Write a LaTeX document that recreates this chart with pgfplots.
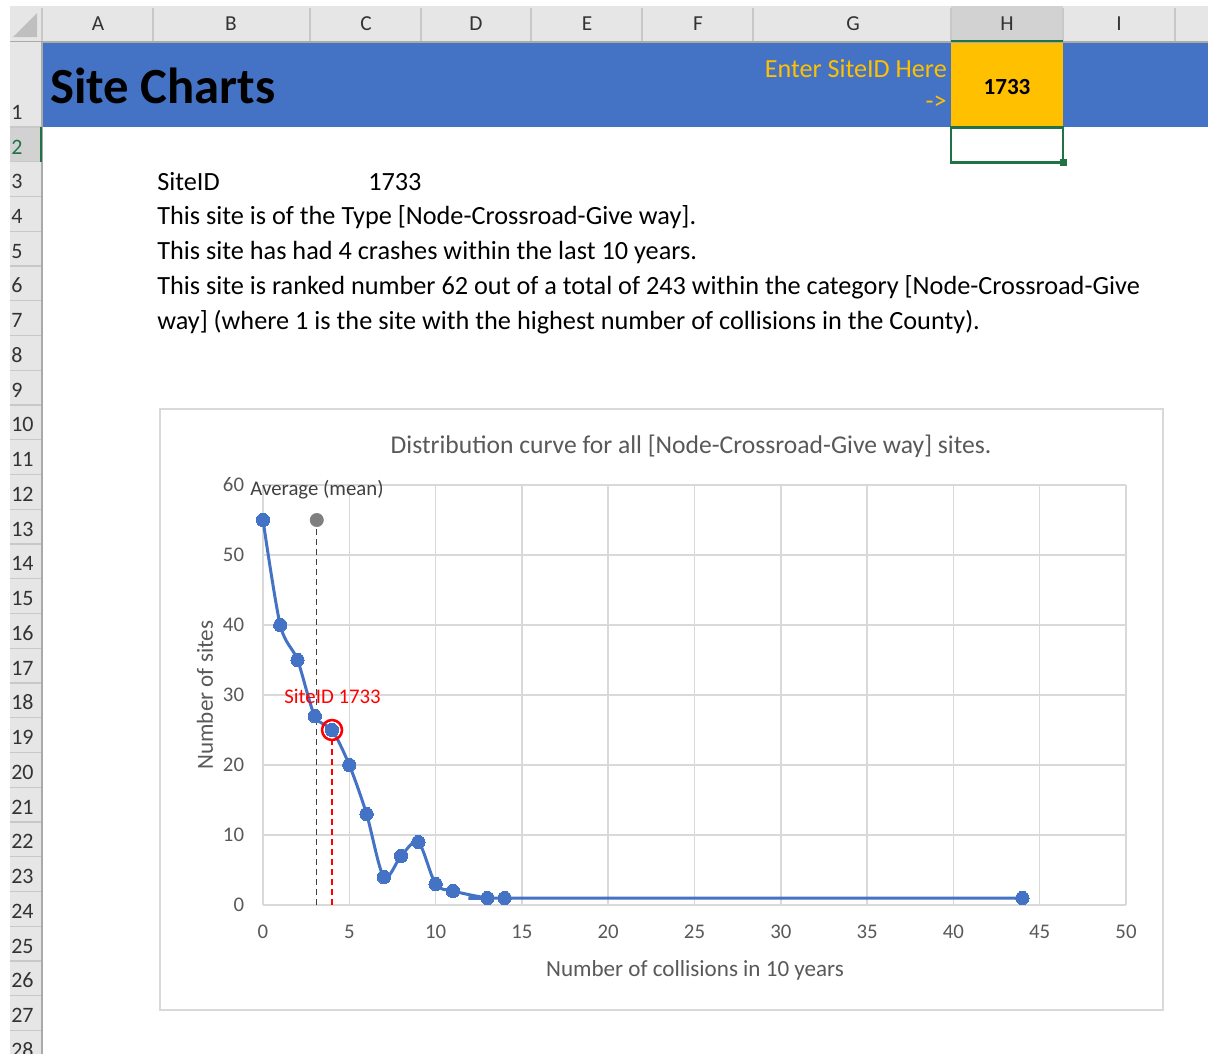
\documentclass[border=0pt]{standalone}
\usepackage{pgfplots}
\pgfplotsset{compat=1.18}
\usepackage{fontspec}
\setmainfont{Carlito}
\definecolor{xlblue}{HTML}{4472C4}
\definecolor{xlgold}{HTML}{FFC000}
\definecolor{xlgreen}{HTML}{217346}
\definecolor{hdrgray}{HTML}{E6E6E6}
\definecolor{hdrsel}{HTML}{D2D2D2}
\definecolor{hdrline}{HTML}{C8C8C8}
\definecolor{hdrtext}{HTML}{333333}
\definecolor{gridc}{HTML}{D9D9D9}
\definecolor{txtgray}{HTML}{595959}
\definecolor{meangray}{HTML}{7F7F7F}
\definecolor{dkgray}{HTML}{404040}
\begin{document}
\begin{tikzpicture}
\begin{scope}[x=0.75pt,y=-0.75pt]
\useasboundingbox (0,0) rectangle (1208,1054);
\fill[white] (0,0) rectangle (1208,1054);
% column headers
\fill[hdrgray] (10,6) rectangle (1208,42);
\fill[hdrsel] (951,6) rectangle (1063,42);
\foreach \x in {42,153,310,421,531,642,753,951,1063,1175} \draw[hdrline, line width=0.8pt] (\x,8) -- (\x,41);
\draw[hdrline!85!black, line width=0.8pt] (10,42) -- (1208,42);
\fill[black!25] (37,13) -- (37,37) -- (13,37) -- cycle;
\foreach \c/\x in {A/98,B/231,C/366,D/476,E/587,F/698,G/853,H/1007,I/1119}
  \node[anchor=base, inner sep=0pt, text=hdrtext, font=\fontsize{16}{18}\selectfont] at (\x,30.5) {\c};
% row headers
\fill[hdrgray] (10,42) rectangle (42,1054);
\fill[hdrsel] (10,127) rectangle (42,161.75);
\foreach \k in {0,...,26} \draw[hdrline, line width=0.8pt] (10,{127+34.75*\k}) -- (41,{127+34.75*\k});
\draw[hdrline!85!black, line width=0.8pt] (42,42) -- (42,1054);
\node[anchor=base west, inner sep=0pt, text=hdrtext, font=\fontsize{16.5}{18}\selectfont] at (11,119) {1};
\node[anchor=base west, inner sep=0pt, text=xlgreen, font=\fontsize{16.5}{18}\selectfont] at (11,154.5) {2};
\foreach \k in {3,...,28}
  \node[anchor=base west, inner sep=0pt, text=hdrtext, font=\fontsize{16.5}{18}\selectfont] at (11,{127+34.75*(\k-2)+17.4+9.5}) {\k};
\draw[xlgreen, line width=1.6pt] (41,127) -- (41,161.75);
% title band
\fill[xlblue] (42.5,42.5) rectangle (1208,127);
\fill[xlgold] (951,42.5) rectangle (1063,127);
\draw[xlgreen, line width=1.6pt] (951,41) -- (1063,41);
\node[anchor=base west, inner sep=0pt, font=\bfseries\fontsize{38}{40}\selectfont] at (50,103) {Site Charts};
\node[anchor=base east, inner sep=0pt, text=xlgold, font=\fontsize{19.6}{22}\selectfont] at (947,77) {Enter SiteID Here};
\node[anchor=base east, inner sep=0pt, text=xlgold, font=\fontsize{19.6}{22}\selectfont] at (947,109) {->};
\node[anchor=base, inner sep=0pt, font=\bfseries\fontsize{17.3}{20}\selectfont] at (1007,94) {1733};
% selected cell
\draw[xlgreen, line width=1.6pt] (951,127.5) rectangle (1063,162.5);
\fill[xlgreen] (1059.5,159) rectangle (1066.5,166);
% body text
\begin{scope}[every node/.style={anchor=base west, inner sep=0pt, font=\fontsize{19.7}{22}\selectfont}]
\node at (157,190) {SiteID};
\node at (368,190) {1733};
\node at (157,224.5) {This site is of the Type [Node-Crossroad-Give way].};
\node at (157,259) {This site has had 4 crashes within the last 10 years.};
\node at (157,294) {This site is ranked number 62 out of a total of 243 within the category [Node-Crossroad-Give};
\node at (157,329) {way] (where 1 is the site with the highest number of collisions in the County).};
\end{scope}
% chart area border
\draw[gridc, line width=1.1pt] (160,409) rectangle (1163,1010);
\end{scope}
\begin{axis}[
  at={(197.25pt,-678.75pt)}, anchor=south west,
  scale only axis, width=647.25pt, height=315pt,
  xmin=0, xmax=50, ymin=0, ymax=60,
  xtick={0,5,...,50}, ytick={0,10,...,60},
  grid=major, grid style={gridc, line width=1.1pt},
  axis line style={draw=none},
  major tick length=0pt,
  /pgf/number format/assume math mode=true,
  tick label style={font=\fontsize{15.6}{18}\selectfont, text=txtgray},
  yticklabel style={anchor=east, inner sep=0pt, xshift=-14pt},
  xticklabel style={anchor=center, inner sep=0pt, yshift=-20pt},
  xlabel={Number of collisions in 10 years},
  ylabel={Number of sites},
  label style={font=\fontsize{17.3}{20}\selectfont, text=txtgray},
  xlabel style={at={(axis description cs:0.5006,-0.155)}, anchor=center},
  ylabel style={at={(axis description cs:-0.0672,0.5)}, anchor=center},
  title={Distribution curve for all [Node-Crossroad-Give way] sites.},
  title style={at={(axis description cs:0.496,1.0976)}, anchor=center, yshift=-7.5pt, font=\fontsize{19.2}{22}\selectfont, text=txtgray},
  clip=false,
]
\addplot[dkgray, line width=1.1pt, dash pattern=on 4.5pt off 3pt] coordinates {(3.115,0) (3.115,55)};
\addplot[red, line width=1.1pt, dash pattern=on 4.5pt off 3pt] coordinates {(4,0) (4,25)};
\addplot[xlblue, line width=2.25pt, smooth, tension=0.5, mark=*, mark size=5pt,
  mark options={fill=xlblue, draw=xlblue, line width=0pt}]
  coordinates {(0,55) (1,40) (2,35) (3,27) (4,25) (5,20) (6,13) (7,4) (8,7) (9,9) (10,3) (11,2) (13,1) (14,1) (44,1)};
\addplot[only marks, mark=*, mark size=5pt, mark options={fill=meangray, draw=meangray}] coordinates {(3.115,55)};
\addplot[only marks, mark=o, mark size=7.5pt, mark options={draw=red, line width=1.9pt}] coordinates {(4,25)};
\node[text=dkgray, font=\fontsize{15.6}{18}\selectfont] at (axis cs:3.13,59.3) {Average (mean)};
\node[text=red, font=\fontsize{15.6}{18}\selectfont] at (axis cs:4.03,29.86) {SiteID 1733};
\end{axis}
\end{tikzpicture}
\end{document}
